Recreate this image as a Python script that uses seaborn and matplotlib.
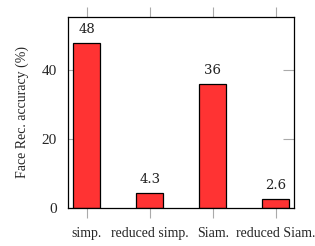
import pandas as pd
import matplotlib.pyplot as plt
import seaborn as sns

# data
methods = ['simp.', 'reduced simp.', 'Siam.', 'reduced Siam.']
accuracy = [48, 4.3, 36, 2.6]
bar_labels = ['48', '4.3', '36', '2.6']

df = pd.DataFrame({'method': methods, 'accuracy': accuracy})

sns.set_style('white')
plt.rcParams['font.family'] = ['Liberation Serif', 'DejaVu Serif']

fig = plt.figure(figsize=(3.15, 2.46), dpi=100)
ax = fig.add_axes([0.2159, 0.1545, 0.7175, 0.7764])

sns.barplot(data=df, x='method', y='accuracy', color='#FF3333', saturation=1,
            width=0.43, edgecolor='black', linewidth=0.9, ax=ax)

for i, (v, s) in enumerate(zip(accuracy, bar_labels)):
    ax.annotate(s, (i, v), xytext=(0, 5), textcoords='offset points',
                ha='center', va='bottom', fontsize=9.5, family='DejaVu Serif',
                color='#222222')

ax.set_xlim(-0.3, 3.29)
ax.set_ylim(0, 55.4)
ax.set_yticks([0, 20, 40])
ax.set_xlabel('')
ax.set_ylabel('Face Rec. accuracy (%)', fontsize=10, labelpad=9)

ax.tick_params(axis='x', direction='out', length=7, width=0.8, color='#aaaaaa',
               top=True, bottom=True, labelsize=10, pad=7)
ax.tick_params(axis='y', direction='in', length=8, width=0.8, color='#aaaaaa',
               left=True, right=True, labelsize=11, pad=8)
for sp in ax.spines.values():
    sp.set_color('black')
    sp.set_linewidth(0.9)
    sp.set_zorder(5)

fig.savefig('out.png', dpi=100)
